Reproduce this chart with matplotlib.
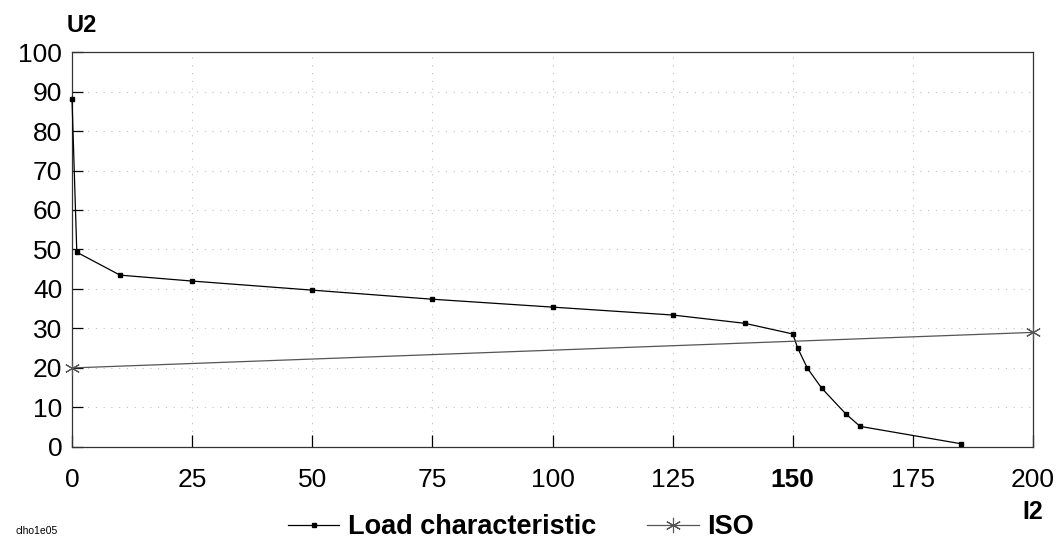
import matplotlib.pyplot as plt

# load characteristic (I2, U2)
load_i = [0, 1, 10, 25, 50, 75, 100, 125, 140, 150, 151, 153, 156, 161, 164, 185]
load_u = [88, 49.3, 43.5, 42.0, 39.7, 37.4, 35.4, 33.4, 31.3, 28.6, 25.1, 20.0, 14.9, 8.4, 5.2, 0.8]

# ISO line
iso_i = [0, 200]
iso_u = [20, 29]

x_ticks = [0, 25, 50, 75, 100, 125, 150, 175, 200]
y_ticks = [0, 10, 20, 30, 40, 50, 60, 70, 80, 90, 100]

plt.rcParams['font.family'] = ['Liberation Sans', 'DejaVu Sans']

fig = plt.figure(figsize=(10.59, 5.45), dpi=100)
ax = fig.add_axes([0.068, 0.18, 0.9075, 0.7245])

# sparse dotted grid
for x in x_ticks[1:-1]:
    ax.axvline(x, color='#c0c0c0', lw=0.8, ls=(0, (1, 6)), zorder=0)
for y in y_ticks[1:-1]:
    ax.axhline(y, color='#c0c0c0', lw=0.8, ls=(0, (1, 6)), zorder=0)

ax.plot(load_i, load_u, color='black', lw=0.9, marker='s', ms=2.8,
        label='Load characteristic', clip_on=False, zorder=3)
ax.plot(iso_i, iso_u, color='#555555', lw=0.9, marker=(6, 2, 0), ms=11,
        mew=0.8, label='ISO', clip_on=False, zorder=3)

ax.set_xlim(0, 200)
ax.set_ylim(0, 100)
ax.set_xticks(x_ticks)
ax.set_yticks(y_ticks)
ax.tick_params(axis='x', direction='in', length=8.5, width=0.9, pad=15,
               labelsize=19)
ax.tick_params(axis='y', direction='in', length=8, width=0.9, pad=7,
               labelsize=19)
for lab in ax.get_xticklabels():
    if lab.get_text() == '150':
        lab.set_fontweight('bold')
for s in ax.spines.values():
    s.set_linewidth(0.9)
    s.set_color('#333333')

fig.text(82 / 1059, 1 - 25 / 545, 'U2', fontsize=17, fontweight='bold', ha='center', va='center')
fig.text(1033 / 1059, 1 - 512 / 545, 'I2', fontsize=18, fontweight='bold', ha='center', va='center')
fig.text(15 / 1059, 1 - 531 / 545, 'clho1e05', fontsize=7.5, ha='left', va='center')

leg = fig.legend(loc='center left', bbox_to_anchor=(288 / 1059, 1 - 527 / 545), ncol=2,
                 frameon=False, prop={'weight': 'bold', 'size': 19.5},
                 handlelength=1.9, columnspacing=1.9, handletextpad=0.3,
                 borderpad=0, borderaxespad=0)

fig.savefig('out.png', dpi=100)
